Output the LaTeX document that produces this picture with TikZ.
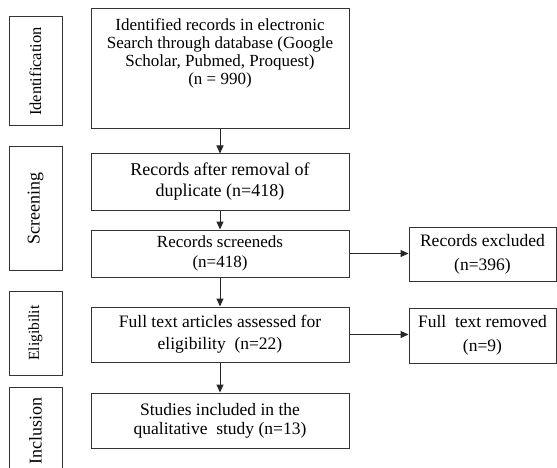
\documentclass[tikz,border=0pt]{standalone}
\usepackage{fontspec}
\setmainfont{Liberation Serif}
\usetikzlibrary{arrows.meta}
\begin{document}
\begin{tikzpicture}[x=1pt,y=-1pt,
  box/.style={draw=black!80, line width=1pt, inner sep=0pt, align=center, minimum width=258pt},
  rbox/.style={draw=black!80, line width=1pt, inner sep=0pt, align=center, minimum width=147pt},
  side/.style={draw=black!80, line width=1pt, inner sep=0pt, minimum height=53pt, rotate=90},
  arr/.style={-{Triangle[length=8pt,width=7pt]}, line width=1pt, draw=black!85},
]
\useasboundingbox (0,0) rectangle (557,468);
\clip (0,0) rectangle (557,468);

% side labels
\node[side, minimum width=109pt, font=\fontsize{16.5}{18}\selectfont] (s1) at (35.5,71.5) {Identification};
\node[side, minimum width=123pt, font=\fontsize{18}{20}\selectfont] (s2) at (35.5,208.5) {Screening};
\node[side, minimum width=84pt, font=\fontsize{15.5}{18}\selectfont] (s3) at (35.5,333) {Eligibilit};
\node[side, minimum width=88pt, font=\fontsize{18}{20}\selectfont] (s4) at (35.5,431) {Inclusion};

% main boxes
\node[box, minimum height=120pt] (b1) at (220,69) {};
\node[align=center, inner sep=0pt, anchor=north, font=\fontsize{17}{18}\selectfont] (b1t) at (220,18)
  {Identified records in electronic\\Search through database (Google\\Scholar, Pubmed, Proquest)\\(n = 990)};
\node[box, minimum height=56pt, font=\fontsize{18}{21}\selectfont] (b2) at (220,182)
  {Records after removal of\\duplicate (n=418)};
\node[box, minimum height=47pt, font=\fontsize{17}{20}\selectfont] (b3) at (220,253.5)
  {Records screeneds\\(n=418)};
\node[box, minimum height=55pt, font=\fontsize{17.5}{22}\selectfont] (b4) at (220,334.5)
  {Full text articles assessed for\\eligibility\ \ (n=22)};
\node[box, minimum height=55pt, font=\fontsize{17.5}{19}\selectfont] (b5) at (220,420.5)
  {Studies included in the\\qualitative\ \ study (n=13)};

% right boxes
\node[rbox, minimum height=54pt, font=\fontsize{17.5}{24}\selectfont] (r1) at (482.5,254)
  {Records excluded\\(n=396)};
\node[rbox, minimum height=55pt, font=\fontsize{17.5}{24}\selectfont] (r2) at (482.5,335.5)
  {Full\ \ text removed\\(n=9)};

% arrows
\draw[arr] (b1.south) -- (b2.north);
\draw[arr] (b2.south) -- (b3.north);
\draw[arr] (b3.south) -- (b4.north);
\draw[arr] (b4.south) -- (b5.north);
\draw[arr] (b3.east) -- (b3.east -| r1.west);
\draw[arr] (b4.east) -- (b4.east -| r2.west);
\end{tikzpicture}
\end{document}
